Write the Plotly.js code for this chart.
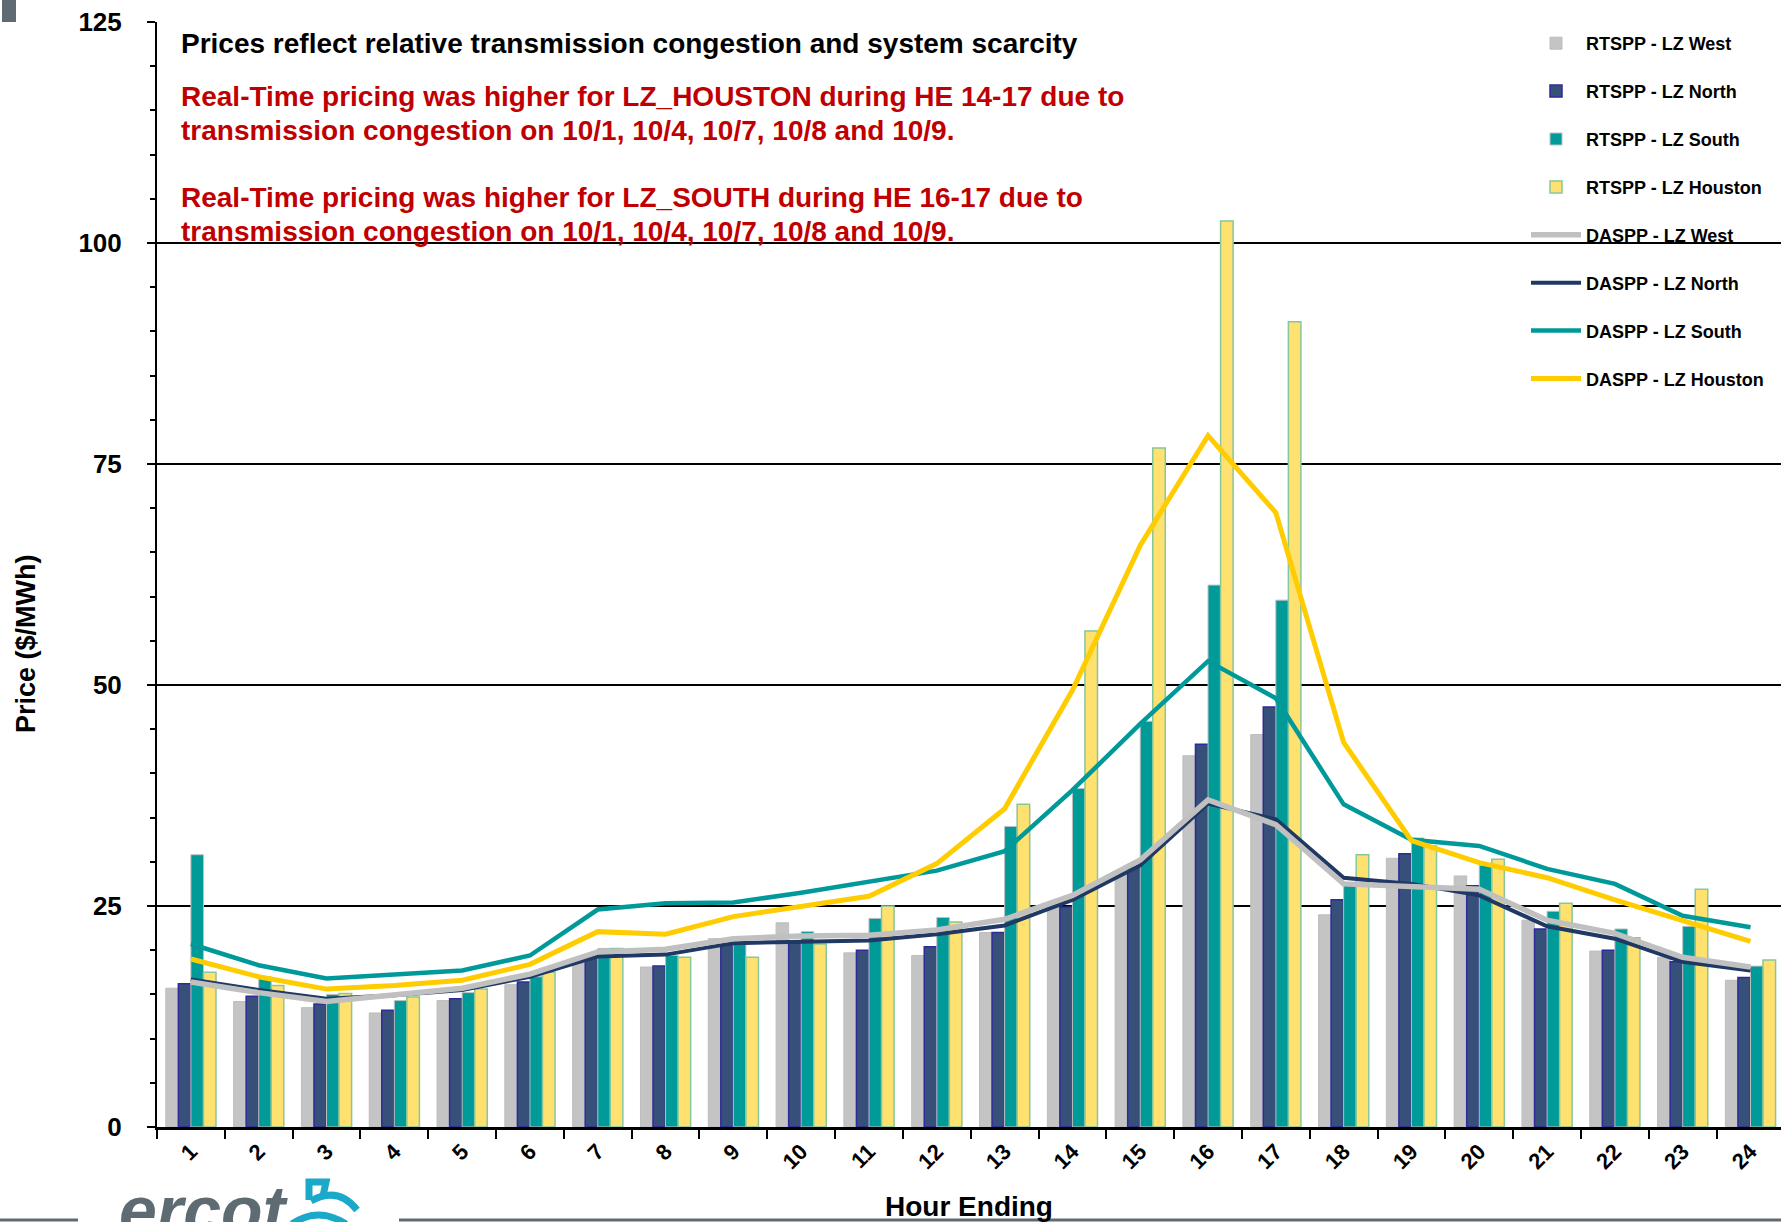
<!DOCTYPE html>
<html>
<head>
<meta charset="utf-8">
<script src="https://cdn.plot.ly/plotly-3.0.1.min.js"></script>
<style>html,body{margin:0;padding:0;background:#fff;}#chart{width:1781px;height:1222px;}</style>
</head>
<body>
<div id="chart"></div>
<script>
// ---- data ----
const hours = ['1','2','3','4','5','6','7','8','9','10','11','12','13','14','15','16','17','18','19','20','21','22','23','24'];

const rtWest    = [15.7, 14.2, 13.5, 12.9, 14.3, 16.1, 18.5, 18.1, 21.3, 23.1, 19.7, 19.4, 22.0, 25.4, 28.9, 42.0, 44.4, 24.0, 30.4, 28.4, 23.4, 19.9, 19.2, 16.6];
const rtNorth   = [16.2, 14.8, 13.9, 13.2, 14.5, 16.4, 19.2, 18.2, 20.6, 20.8, 20.0, 20.4, 22.0, 24.9, 29.3, 43.3, 47.5, 25.7, 30.9, 27.3, 22.4, 20.0, 18.7, 16.9];
const rtSouth   = [30.8, 17.0, 15.0, 14.3, 15.2, 17.0, 20.2, 19.4, 20.8, 22.1, 23.6, 23.7, 34.0, 38.3, 45.9, 61.3, 59.6, 27.5, 32.7, 29.6, 24.4, 22.4, 22.7, 18.2];
const rtHouston = [17.5, 16.0, 15.1, 14.7, 15.6, 17.5, 20.2, 19.2, 19.2, 20.7, 25.0, 23.2, 36.5, 56.1, 76.8, 102.5, 91.1, 30.8, 31.8, 30.3, 25.3, 21.4, 26.9, 18.9];

const daWest    = [16.4, 15.2, 14.2, 15.0, 15.7, 17.3, 19.8, 20.1, 21.3, 21.6, 21.7, 22.3, 23.5, 26.2, 30.2, 37.0, 34.2, 27.5, 27.2, 26.9, 23.4, 21.9, 19.2, 18.1];
const daNorth   = [16.7, 15.5, 14.5, 14.9, 15.5, 17.0, 19.3, 19.5, 20.8, 21.0, 21.1, 21.8, 22.8, 25.7, 29.6, 36.6, 34.8, 28.2, 27.5, 26.2, 22.7, 21.3, 18.7, 17.7];
const daSouth   = [20.7, 18.3, 16.8, 17.2, 17.7, 19.4, 24.6, 25.3, 25.4, 26.5, 27.8, 29.0, 31.2, 38.1, 45.6, 52.7, 48.5, 36.5, 32.5, 31.8, 29.2, 27.5, 23.9, 22.6];
const daHouston = [19.0, 17.0, 15.6, 16.0, 16.6, 18.4, 22.1, 21.8, 23.8, 25.0, 26.1, 29.8, 36.0, 49.4, 65.8, 78.2, 69.5, 43.5, 32.4, 29.9, 28.2, 25.7, 23.4, 21.0];

const seriesNames = ['RTSPP - LZ West','RTSPP - LZ North','RTSPP - LZ South','RTSPP - LZ Houston',
                     'DASPP - LZ West','DASPP - LZ North','DASPP - LZ South','DASPP - LZ Houston'];

const yTickVals = [0, 25, 50, 75, 100, 125];

const noteTitle = 'Prices reflect relative transmission congestion and system scarcity';
const noteLines = ['Real-Time pricing was higher for LZ_HOUSTON during HE 14-17 due to',
                   'transmission congestion on 10/1, 10/4, 10/7, 10/8 and 10/9.',
                   'Real-Time pricing was higher for LZ_SOUTH during HE 16-17 due to',
                   'transmission congestion on 10/1, 10/4, 10/7, 10/8 and 10/9.'];
const xTitle = 'Hour Ending';
const yTitle = 'Price ($/MWh)';
const logoText = 'ercot';

// ---- geometry helpers (pixel -> paper) ----
const L = 157, T = 22, PW = 1624, PH = 1105;
const X = p => (p - L) / PW;
const Y = p => (T + PH - p) / PH;
const FONT = 'Liberation Sans, Arial, sans-serif';

function bar(name, y, fill, lineCol, lw, rank) {
  return {type:'bar', name:name, x:hours, y:y, legendgroup:name, legendrank:rank,
          marker:{color:fill, line:{color:lineCol, width:lw}}, hoverinfo:'x+y+name'};
}
function line(name, y, col, w, rank) {
  return {type:'scatter', mode:'lines', name:name, x:hours, y:y, legendgroup:name, legendrank:rank,
          line:{color:col, width:w}};
}

const data = [
  bar(seriesNames[0], rtWest,    '#C4C4C4', '#BDBDBD', 1,   1),
  bar(seriesNames[1], rtNorth,   '#36507A', '#2E2A9A', 1.5, 2),
  bar(seriesNames[2], rtSouth,   '#009B98', '#BFBFBF', 1,   3),
  bar(seriesNames[3], rtHouston, '#FFE170', '#86C79B', 1.5, 4),
  line(seriesNames[5], daNorth,   '#1F3864', 4,   6),
  line(seriesNames[4], daWest,    '#C0C0C0', 5.5, 5),
  line(seriesNames[6], daSouth,   '#00999A', 4.5, 7),
  line(seriesNames[7], daHouston, '#FFCC00', 5,   8)
];

function note(text, py, color) {
  return {text:text, xref:'paper', yref:'paper', x:X(179), y:Y(py), xanchor:'left', yanchor:'middle',
          showarrow:false, font:{family:FONT, size:28, weight:'bold', color:color}};
}

const annotations = [
  note(noteTitle, 43, '#000'),
  note(noteLines[0], 97, '#C00000'),
  note(noteLines[1], 130, '#C00000'),
  note(noteLines[2], 197, '#C00000'),
  note(noteLines[3], 231, '#C00000'),
  {text:yTitle, xref:'paper', yref:'paper', x:X(26), y:Y(644), xanchor:'center', yanchor:'middle', textangle:-90,
   showarrow:false, font:{family:FONT, size:27, weight:'bold', color:'#000'}},
  {text:logoText, xref:'paper', yref:'paper', x:X(117), y:Y(1170), xanchor:'left', yanchor:'top',
   showarrow:false, font:{family:FONT, size:68, weight:'bold', style:'italic', color:'#5F6B73'}}
];

function pth(pts){ return pts.map((p,i)=> (i? 'L':'M') + X(p[0]) + ',' + Y(p[1])).join(' '); }
function qpth(a,c,b){ return 'M'+X(a[0])+','+Y(a[1])+' Q'+X(c[0])+','+Y(c[1])+' '+X(b[0])+','+Y(b[1]); }

const shapes = [
  {type:'rect', xref:'paper', yref:'paper', x0:X(2), x1:X(16), y0:Y(22), y1:Y(0), fillcolor:'#5F6B73', line:{width:0}},
  {type:'line', xref:'paper', yref:'paper', x0:X(0), x1:X(78), y0:Y(1220), y1:Y(1220), line:{color:'#5F6B73', width:3}},
  {type:'line', xref:'paper', yref:'paper', x0:X(399), x1:X(1781), y0:Y(1220), y1:Y(1220), line:{color:'#5F6B73', width:3}},
  {type:'path', xref:'paper', yref:'paper', path:pth([[309,1200],[309,1182],[326,1182],[323,1196]]), line:{color:'#1BA9C9', width:7}},
  {type:'path', xref:'paper', yref:'paper', path:qpth([311,1201],[338,1186],[357,1210]), line:{color:'#1BA9C9', width:7}},
  {type:'path', xref:'paper', yref:'paper', path:qpth([292,1224],[318,1206],[346,1224]), line:{color:'#1BA9C9', width:7}}
];

const layout = {
  width:1781, height:1222,
  margin:{l:157, r:0, t:22, b:95},
  paper_bgcolor:'#fff', plot_bgcolor:'#fff',
  font:{family:FONT, color:'#000'},
  barmode:'group', bargap:0.26, bargroupgap:0,
  showlegend:true,
  legend:{x:X(1526), xanchor:'left', y:Y(25), yanchor:'top', bgcolor:'rgba(0,0,0,0)', borderwidth:0,
          font:{family:FONT, size:18, weight:'bold', color:'#000'}, itemwidth:50, tracegroupgap:21.5},
  xaxis:{type:'category', range:[-0.5, 23.45], tickson:'boundaries', ticks:'outside', ticklen:9, tickwidth:2,
         tickcolor:'#000', showline:true, linecolor:'#000', linewidth:3, showgrid:false, zeroline:false,
         tickangle:-45, tickfont:{family:FONT, size:22, weight:'bold', color:'#000'}, automargin:false,
         title:{text:xTitle, standoff:26, font:{family:FONT, size:28, weight:'bold', color:'#000'}}},
  yaxis:{range:[0,125], tickvals:yTickVals, ticks:'outside', ticklen:8, tickwidth:2, tickcolor:'#000',
         showline:true, linecolor:'#000', linewidth:2, showgrid:true, gridcolor:'#000', gridwidth:2, zeroline:false,
         minor:{dtick:5, ticks:'outside', ticklen:5, tickwidth:2, tickcolor:'#000', showgrid:false},
         ticklabelstandoff:20, automargin:false,
         tickfont:{family:FONT, size:26, weight:'bold', color:'#000'}},
  annotations:annotations,
  shapes:shapes
};

Plotly.newPlot('chart', data, layout, {displayModeBar:false, staticPlot:true});
</script>
</body>
</html>
